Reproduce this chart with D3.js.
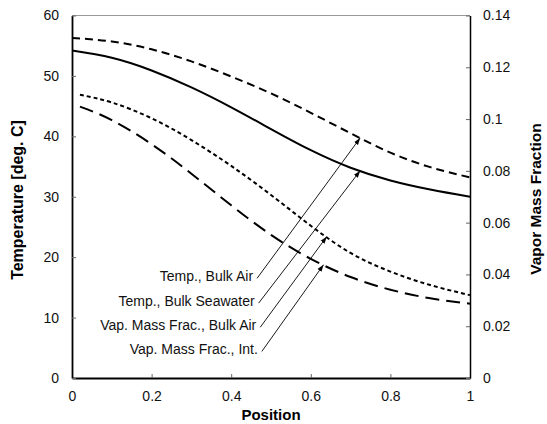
<!DOCTYPE html>
<html><head><meta charset="utf-8">
<script src="https://cdn.jsdelivr.net/npm/d3@7"></script>
<style>body{margin:0;background:#fff}text{font-family:Arial,"Liberation Sans",sans-serif}</style>
</head><body>
<script>
// ---- data ----
const positions = [0, 0.1, 0.2, 0.3, 0.4, 0.5, 0.6, 0.7, 0.8, 0.9, 1.0];
const vapPositions = [0.02, 0.1, 0.2, 0.3, 0.4, 0.5, 0.6, 0.7, 0.8, 0.9, 1.0];
const tempBulkAir = [56.3, 55.7, 54.4, 52.4, 49.9, 47.1, 43.9, 40.5, 37.3, 34.9, 33.2];
const tempBulkSeawater = [54.2, 53.0, 50.9, 48.1, 44.8, 41.2, 37.7, 34.8, 32.7, 31.2, 30.0];
const vapBulkAir = [0.1094, 0.1064, 0.1003, 0.0919, 0.0819, 0.0707, 0.0588, 0.0483, 0.0411, 0.0359, 0.0320];
const vapInt = [0.1048, 0.0996, 0.0903, 0.0789, 0.0667, 0.0553, 0.0460, 0.0390, 0.0341, 0.0308, 0.0287];
const xTicks = [0, 0.2, 0.4, 0.6, 0.8, 1];
const yLeftTicks = [0, 10, 20, 30, 40, 50, 60];
const yRightTicks = [0, 0.02, 0.04, 0.06, 0.08, 0.1, 0.12, 0.14];
const annLabels = ["Temp., Bulk Air", "Temp., Bulk Seawater", "Vap. Mass Frac., Bulk Air", "Vap. Mass Frac., Int."];
const annTargetP = [0.724, 0.724, 0.64, 0.632];
const annTextP = [0.465, 0.469, 0.473, 0.477];
const annTextT = [16.5, 12.4, 8.4, 4.4];

// ---- layout ----
const W = 547, H = 424;
const L = 72, R = 470, T = 15.5, B = 378;
const svg = d3.select("body").append("svg").attr("width", W).attr("height", H);
const x = d3.scaleLinear().domain([0, 1]).range([L, R]);
const yL = d3.scaleLinear().domain([0, 60]).range([B, T]);
const yR = d3.scaleLinear().domain([0, 0.14]).range([B, T]);

// frame
svg.append("line").attr("x1", L).attr("x2", R).attr("y1", T).attr("y2", T).attr("stroke", "#999").attr("stroke-width", 1);

// axes
const gx = svg.append("g").attr("transform", `translate(0,${B})`)
  .call(d3.axisBottom(x).tickValues(xTicks).tickSizeInner(-4).tickSizeOuter(0).tickPadding(13).tickFormat(d3.format("~g")));
const gl = svg.append("g").attr("transform", `translate(${L},0)`)
  .call(d3.axisLeft(yL).tickValues(yLeftTicks).tickSizeInner(-4).tickSizeOuter(0).tickPadding(13).tickFormat(d3.format("~g")));
const gr = svg.append("g").attr("transform", `translate(${R},0)`)
  .call(d3.axisRight(yR).tickValues(yRightTicks).tickSizeInner(-4).tickSizeOuter(0).tickPadding(13).tickFormat(d3.format("~g")));
[gx, gl, gr].forEach(g => {
  g.selectAll("text").attr("font-size", 14).attr("fill", "#111").attr("font-family", "Arial, 'Liberation Sans', sans-serif");
  g.selectAll(".tick line").attr("stroke", "#666");
  g.select(".domain").attr("stroke", "#000").attr("stroke-width", 1.8);
});
gr.select(".domain").attr("stroke-width", 1.5);

// curves
const line = (ys) => d3.line().x(d => x(d[0])).y(d => ys(d[1])).curve(d3.curveNatural);
const series = [
  {xs: positions, vals: tempBulkAir, scale: yL, dash: "8,5"},
  {xs: positions, vals: tempBulkSeawater, scale: yL, dash: null},
  {xs: vapPositions, vals: vapBulkAir, scale: yR, dash: "4,3"},
  {xs: vapPositions, vals: vapInt, scale: yR, dash: "14,7"}
];
series.forEach(s => {
  const pts = s.xs.map((p, i) => [p, s.vals[i]]);
  svg.append("path").datum(pts).attr("d", line(s.scale))
    .attr("fill", "none").attr("stroke", "#000").attr("stroke-width", 2)
    .attr("stroke-dasharray", s.dash);
});

// annotations
svg.append("defs").append("marker").attr("id", "ah").attr("viewBox", "0 0 10 10")
  .attr("refX", 10).attr("refY", 5).attr("markerWidth", 7).attr("markerHeight", 7)
  .attr("markerUnits", "userSpaceOnUse").attr("orient", "auto")
  .append("path").attr("d", "M0,1.5 L10,5 L0,8.5 Z").attr("fill", "#000");
function interp(xs, vals, p) {
  for (let i = 0; i < xs.length - 1; i++) {
    if (p >= xs[i] && p <= xs[i + 1]) {
      const t = (p - xs[i]) / (xs[i + 1] - xs[i]);
      return vals[i] + t * (vals[i + 1] - vals[i]);
    }
  }
  return vals[vals.length - 1];
}
annLabels.forEach((lab, i) => {
  const s = series[i];
  const tx = x(annTargetP[i]);
  const ty = s.scale(interp(s.xs, s.vals, annTargetP[i]));
  const sx = x(annTextP[i]);
  const sy = yL(annTextT[i]);
  svg.append("line").attr("x1", sx).attr("y1", sy).attr("x2", tx).attr("y2", ty)
    .attr("stroke", "#000").attr("stroke-width", 0.9).attr("marker-end", "url(#ah)");
  svg.append("text").attr("x", sx - 4).attr("y", sy + 2.5).attr("text-anchor", "end")
    .attr("font-size", 14).attr("fill", "#111").text(lab);
});

// axis titles
svg.append("text").attr("transform", `translate(23,200) rotate(-90)`)
  .attr("text-anchor", "middle").attr("font-size", 16).attr("font-weight", "bold").text("Temperature [deg. C]");
svg.append("text").attr("transform", `translate(541,199) rotate(-90)`)
  .attr("text-anchor", "middle").attr("font-size", 15.5).attr("font-weight", "bold").text("Vapor Mass Fraction");
svg.append("text").attr("x", (L + R) / 2).attr("y", 420)
  .attr("text-anchor", "middle").attr("font-size", 15).attr("font-weight", "bold").text("Position");
</script>
</body></html>
